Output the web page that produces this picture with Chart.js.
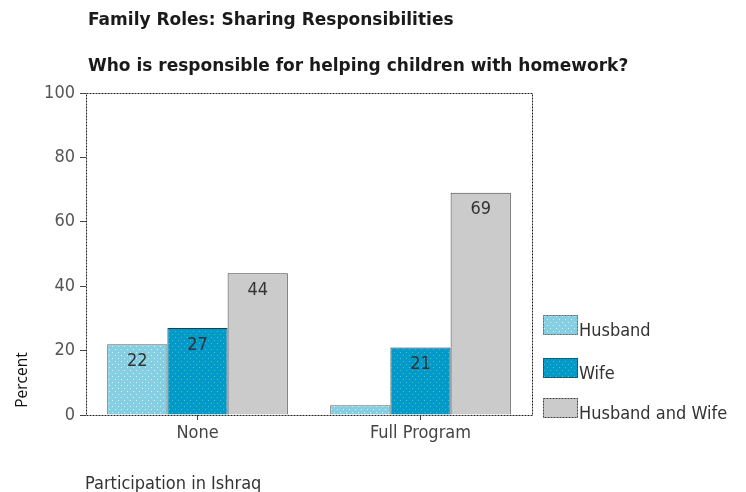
<!DOCTYPE html>
<html>
<head>
<meta charset="utf-8">
<script src="https://cdn.jsdelivr.net/npm/chart.js@4.4.1/dist/chart.umd.min.js"></script>
<style>
html,body{margin:0;padding:0;background:#fff;}
#wrap{width:746px;height:492px;position:relative;}
</style>
</head>
<body>
<div id="wrap"><canvas id="c" width="746" height="492"></canvas></div>
<script>
const title = "Family Roles: Sharing Responsibilities";
const subtitle = "Who is responsible for helping children with homework?";
const xAxisTitle = "Participation in Ishraq";
const yAxisTitle = "Percent";
const categories = ["None", "Full Program"];
const seriesNames = ["Husband", "Wife", "Husband and Wife"];
const husband = [22, 3];
const wife = [27, 21];
const husbandAndWife = [44, 69];
const yTicks = [0, 20, 40, 60, 80, 100];

function dotPattern(base, dot) {
  const p = document.createElement('canvas');
  p.width = 6; p.height = 6;
  const g = p.getContext('2d');
  g.fillStyle = base; g.fillRect(0, 0, 6, 6);
  g.fillStyle = dot;
  g.fillRect(1, 1, 1, 1);
  g.fillRect(4, 4, 1, 1);
  return g.createPattern(p, 'repeat');
}
const fills = [
  dotPattern('#86cfe2', '#d4f4fa'),
  dotPattern('#0399c9', '#3fc4bd'),
  '#cbcbcb'
];
const borders = ['#666666', '#1f3f4f', '#444444'];

const FONT_N = '"Liberation Sans Narrow", "Arial Narrow", "DejaVu Sans Condensed", sans-serif';

const overlay = {
  id: 'overlay',
  afterDatasetsDraw(chart) {
    const g = chart.ctx;
    g.save();
    g.font = '18px ' + FONT_N;
    g.fillStyle = '#333';
    g.textAlign = 'center';
    g.textBaseline = 'middle';
    chart.data.datasets.forEach((ds, i) => {
      const meta = chart.getDatasetMeta(i);
      meta.data.forEach((bar, j) => {
        const v = ds.data[j];
        if (v < 5) return;
        g.fillText(String(v), bar.x, bar.y + 17);
      });
    });
    g.restore();
  },
  afterDraw(chart) {
    const g = chart.ctx;
    const a = chart.chartArea;
    g.save();
    g.strokeStyle = '#222';
    g.lineWidth = 1;
    g.setLineDash([2, 1]);
    g.strokeRect(Math.round(a.left) + 0.5, Math.round(a.top) + 0.5, Math.round(a.right - a.left), Math.round(a.bottom - a.top));
    g.setLineDash([]);
    g.fillStyle = '#1a1a1a';
    g.textAlign = 'left';
    g.textBaseline = 'middle';
    g.font = 'bold 17px "DejaVu Sans", sans-serif';
    g.fillText(title, 88, 21);
    g.fillText(subtitle, 88, 67);
    g.font = '18px ' + FONT_N;
    g.fillStyle = '#333';
    g.textBaseline = 'alphabetic';
    g.fillText(xAxisTitle, 85, 489);
    g.save();
    g.translate(27, 380);
    g.rotate(-Math.PI / 2);
    g.textAlign = 'center';
    g.font = '15.5px "Open Sans", sans-serif';
    g.fillStyle = '#111';
    g.fillText(yAxisTitle, 0, 0);
    g.restore();
    const ys = [325, 368, 408];
    chart.data.datasets.forEach((ds, i) => {
      const y = ys[i];
      g.fillStyle = ds.backgroundColor;
      g.fillRect(543, y - 10, 35, 20);
      g.strokeStyle = borders[i];
      g.setLineDash([2, 1]);
      g.strokeRect(543.5, y - 10 + 0.5, 34, 19);
      g.setLineDash([]);
      g.fillStyle = '#333';
      g.font = '18px ' + FONT_N;
      g.textAlign = 'left';
      g.textBaseline = 'alphabetic';
      g.fillText(ds.label, 579, y + 11);
    });
    g.restore();
  }
};

new Chart(document.getElementById('c'), {
  type: 'bar',
  data: {
    labels: categories,
    datasets: [
      { label: seriesNames[0], data: husband, backgroundColor: fills[0], borderColor: borders[0], borderWidth: 1 },
      { label: seriesNames[1], data: wife, backgroundColor: fills[1], borderColor: borders[1], borderWidth: 1 },
      { label: seriesNames[2], data: husbandAndWife, backgroundColor: fills[2], borderColor: borders[2], borderWidth: 1 }
    ]
  },
  options: {
    responsive: false,
    animation: false,
    devicePixelRatio: 1,
    layout: { padding: { left: 0, right: 214, top: 93, bottom: 0 } },
    plugins: { legend: { display: false }, tooltip: { enabled: false }, title: { display: false } },
    datasets: { bar: { categoryPercentage: 0.81, barPercentage: 1.0 } },
    scales: {
      x: {
        afterFit(s) { s.height = 77; },
        grid: { display: true, drawOnChartArea: false, offset: false, tickLength: 5, color: '#444' },
        border: { display: false },
        ticks: { font: { family: FONT_N, size: 18 }, color: '#444', padding: 3 }
      },
      y: {
        min: 0, max: 100,
        afterFit(s) { s.width = 86; },
        afterBuildTicks(s) { s.ticks = yTicks.map(v => ({ value: v })); },
        grid: { display: true, drawOnChartArea: false, tickLength: 6, color: '#444' },
        border: { display: false },
        ticks: { font: { family: FONT_N, size: 18 }, color: '#555', padding: 5 }
      }
    }
  },
  plugins: [overlay]
});
</script>
</body>
</html>
